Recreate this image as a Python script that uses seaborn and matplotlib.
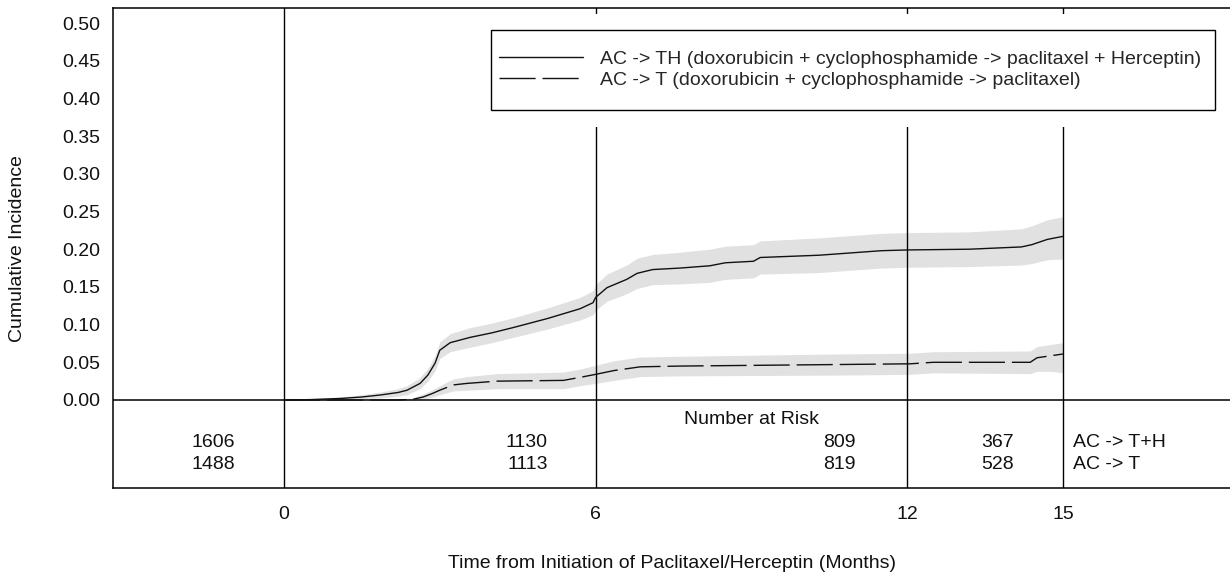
import numpy as np
import pandas as pd
import matplotlib
matplotlib.use("Agg")
import matplotlib.pyplot as plt
from matplotlib.lines import Line2D
from matplotlib.patches import Rectangle
import seaborn as sns

# --- data ---
th_label = "AC -> TH (doxorubicin + cyclophosphamide -> paclitaxel + Herceptin)"
t_label = "AC -> T (doxorubicin + cyclophosphamide -> paclitaxel)"

th_month = [0, 0.5, 1.08, 1.5, 1.85, 2.2, 2.37, 2.62, 2.77, 2.91, 3.0, 3.2, 3.58, 4.0,
            4.41, 5.07, 5.7, 5.95, 6.0, 6.22, 6.6, 6.8, 7.1, 7.63, 8.2, 8.5, 9.04, 9.17,
            10.3, 11.5, 12.0, 13.2, 14.2, 14.4, 14.7, 15.0]
th_ci = [0, 0.0005, 0.002, 0.004, 0.0066, 0.010, 0.013, 0.022, 0.033, 0.049, 0.066, 0.076,
         0.083, 0.089, 0.096, 0.108, 0.121, 0.129, 0.136, 0.149, 0.160, 0.168, 0.173, 0.175,
         0.178, 0.182, 0.184, 0.189, 0.192, 0.198, 0.199, 0.200, 0.203, 0.206, 0.213, 0.217]
th_lo = [0, 0, 0, 0.001, 0.0026, 0.005, 0.007, 0.015, 0.025, 0.039, 0.055, 0.064,
         0.070, 0.076, 0.083, 0.094, 0.106, 0.113, 0.119, 0.131, 0.141, 0.148, 0.153, 0.154,
         0.156, 0.160, 0.162, 0.167, 0.169, 0.175, 0.176, 0.177, 0.179, 0.181, 0.186, 0.187]
th_hi = [0, 0.0015, 0.004, 0.007, 0.0106, 0.015, 0.019, 0.030, 0.042, 0.059, 0.077, 0.088,
         0.096, 0.102, 0.109, 0.122, 0.136, 0.145, 0.153, 0.167, 0.179, 0.188, 0.193, 0.196,
         0.200, 0.204, 0.206, 0.211, 0.215, 0.221, 0.222, 0.223, 0.227, 0.231, 0.239, 0.243]

t_month = [0, 2.2, 2.49, 2.68, 2.87, 3.0, 3.26, 3.52, 4.1, 5.38, 5.7, 6.0, 6.35, 6.86,
           7.63, 10.6, 12.06, 12.5, 14.37, 14.5, 14.8, 15.0]
t_ci = [0, 0, 0.001, 0.004, 0.009, 0.013, 0.020, 0.022, 0.025, 0.026, 0.030, 0.034, 0.039,
        0.044, 0.045, 0.047, 0.048, 0.050, 0.050, 0.056, 0.059, 0.061]
t_lo = [0, 0, 0, 0.001, 0.004, 0.007, 0.012, 0.013, 0.015, 0.015, 0.019, 0.022, 0.026,
        0.031, 0.032, 0.033, 0.034, 0.036, 0.035, 0.038, 0.038, 0.036]
t_hi = [0, 0, 0.003, 0.008, 0.014, 0.019, 0.028, 0.031, 0.035, 0.037, 0.041, 0.046, 0.052,
        0.057, 0.058, 0.061, 0.062, 0.064, 0.065, 0.071, 0.074, 0.076]

risk_months = [0, 6, 12, 15]
risk_th = [1606, 1130, 809, 367]
risk_t = [1488, 1113, 819, 528]
row_labels = ["AC -> T+H", "AC -> T"]

y_ticks = [0.00, 0.05, 0.10, 0.15, 0.20, 0.25, 0.30, 0.35, 0.40, 0.45, 0.50]

# --- plot ---
sns.set_theme(style="white")
plt.rcParams["font.family"] = ["Liberation Sans", "DejaVu Sans"]

W, H = 1230, 578
fig = plt.figure(figsize=(W / 100, H / 100), dpi=100)
ax = fig.add_axes([113 / W, 90 / H, (W - 113) / W, 480 / H])

df = pd.concat([
    pd.DataFrame({"month": th_month, "ci": th_ci, "arm": th_label}),
    pd.DataFrame({"month": t_month, "ci": t_ci, "arm": t_label}),
])

ax.fill_between(th_month, th_lo, th_hi, color="#e1e1e1", lw=0, zorder=1.5)
ax.fill_between(t_month, t_lo, t_hi, color="#e1e1e1", lw=0, zorder=1.5)

dash = (26, 5)
sns.lineplot(data=df, x="month", y="ci", style="arm", style_order=[th_label, t_label],
             dashes={th_label: "", t_label: dash}, color="#111111", lw=1.0,
             estimator=None, sort=False, legend=False, ax=ax, zorder=3)

ax.axhline(0, color="black", lw=1.1, zorder=2.6)
for m in risk_months:
    ax.axvline(m, color="black", lw=1.0, zorder=2)

# white area behind the legend that interrupts the vertical lines
ax.add_patch(Rectangle((480 / W, 1 - 127 / H), 750 / W, 113 / H, transform=fig.transFigure,
                       facecolor="white", edgecolor="none", zorder=2.55, clip_on=False))
ax.add_patch(Rectangle((491 / W, 1 - 110 / H), 724 / W, 80 / H, transform=fig.transFigure,
                       facecolor="white", edgecolor="black", lw=1.0, zorder=4, clip_on=False))
handles = [Line2D([], [], color="#111111", lw=1.0),
           Line2D([], [], color="#111111", lw=1.0, dashes=dash)]
leg = ax.legend(handles, [th_label, t_label], loc="center left",
                bbox_to_anchor=(499 / W, 1 - 69.5 / H), bbox_transform=fig.transFigure,
                frameon=False, fontsize=14, handlelength=4.32, handletextpad=0.87,
                labelspacing=0.15, borderpad=0, borderaxespad=0)
leg.set_zorder(5)

ax.set_xlim((113 - 284) / 51.93, (W - 284) / 51.93)
ax.set_ylim(-88 / 754, 392 / 754)
ax.set_xticks(risk_months)
ax.set_xticklabels([str(m) for m in risk_months])
ax.set_yticks(y_ticks)
ax.set_yticklabels([f"{v:.2f}" for v in y_ticks])
ax.tick_params(axis="both", length=0, labelsize=14, colors="#111111")
ax.tick_params(axis="x", pad=13)
ax.tick_params(axis="y", pad=9)
ax.set_xlabel("")
ax.set_ylabel("")
for side in ["left", "top", "bottom"]:
    ax.spines[side].set_color("black")
    ax.spines[side].set_linewidth(1.1)
ax.spines["right"].set_visible(False)

# number at risk table
ax.text(9.01, -0.0265, "Number at Risk", ha="center", va="center", fontsize=14, color="#111111")
risk_x = [-0.944, 5.08, 11.0, 14.06]
for x, a, b in zip(risk_x, risk_th, risk_t):
    ax.text(x, -0.057, str(a), ha="right", va="center", fontsize=14, color="#111111")
    ax.text(x, -0.086, str(b), ha="right", va="center", fontsize=14, color="#111111")
ax.text(15.19, -0.057, row_labels[0], ha="left", va="center", fontsize=14, color="#111111")
ax.text(15.19, -0.086, row_labels[1], ha="left", va="center", fontsize=14, color="#111111")

fig.text(18 / W, 1 - 249 / H, "Cumulative Incidence", rotation=90, ha="center", va="center",
         fontsize=14, color="#111111")
fig.text(672 / W, 1 - 563 / H, "Time from Initiation of Paclitaxel/Herceptin (Months)",
         ha="center", va="center", fontsize=14, color="#111111")

fig.savefig("out.png", dpi=100)
